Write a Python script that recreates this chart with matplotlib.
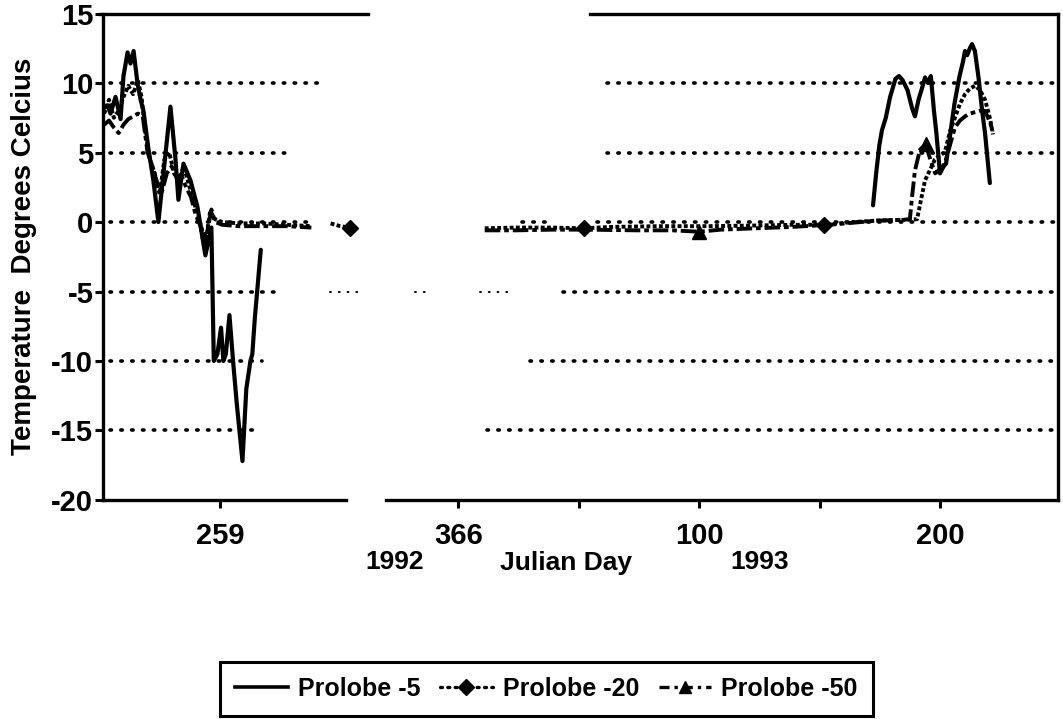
import numpy as np
import matplotlib
matplotlib.use("Agg")
import matplotlib.pyplot as plt
from matplotlib.lines import Line2D

plt.rcParams['font.family'] = ['Liberation Sans Narrow', 'Liberation Sans', 'DejaVu Sans']
plt.rcParams['font.weight'] = 'bold'

nan = np.nan

# ---------------- data (continuous day number: 1992 day N -> N, 1993 day N -> 366 + N)
P5_DAY = [219, 220.4, 221.6, 223.7, 225.8, 227, 228.7, 229.9, 231.2, 232.8, 234.1, 235.3,
          237.4, 239.4, 241.5, 243.6, 246.5, 248.6, 249.8, 251.9, 254.8, 257.7, 261, 263.5,
          264.5, 266, 267.5, 268.5, 269.5, 271, 272.5, 274, 276.4, 278, 279.7, 280.5, 281.5, 284,
          285,
          538.2, 539.5, 540.8, 541.9, 543.5, 545.3, 547.5, 549.0, 550.5, 552.5, 554.4, 555.6,
          557.1, 558.5, 559.8, 561, 562.2, 563.5, 564.5, 566, 567.5, 568.5, 570, 572, 574,
          575.5, 576.4, 577.3, 578.4, 579.3, 580.5, 582, 583.5, 584.7, 586.7]
P5_TEMP = [8.2, 8.4, 7.8, 9.0, 7.4, 10.5, 12.2, 11.4, 12.3, 10.0, 8.8, 8.0,
           5.2, 3.0, 0.0, 3.5, 8.3, 4.5, 1.6, 4.2, 3.0, 1.1, -2.4, -0.4,
           -10.0, -9.5, -7.6, -10.0, -9.5, -6.7, -10.0, -13.0, -17.2, -12.0, -10.0, -9.5, -7.0, -2.0,
           nan,
           1.2, 3.5, 5.5, 6.6, 7.5, 9.0, 10.3, 10.5, 10.2, 9.5, 8.2, 7.6,
           8.8, 9.6, 10.4, 10.0, 10.5, 8.0, 6.4, 3.5, 4.0, 4.2, 6.0, 8.5, 10.4,
           11.5, 12.3, 12.0, 12.5, 12.8, 12.3, 10.4, 8.0, 6.4, 2.8]

P20_DAY = [219, 221, 223, 225, 227, 229, 231, 233, 234.5, 236, 238, 240, 242, 244, 246, 248,
           250, 252, 254, 256, 258, 260, 261.5, 263, 265, 268, 275, 285, 295, 305,
           309,
           313, 317, 321, 323,
           350,
           377, 390, 405, 418, 430, 450, 470, 490, 505, 518, 530, 540, 550, 556.5, 558, 559.8,
           562, 563.9, 566, 568, 570.1, 572.2, 574.3, 576.4, 578.4, 580.5, 582.6, 584.7, 586.7, 588]
P20_TEMP = [7.8, 8.8, 7.5, 8.0, 9.0, 9.8, 9.2, 10.2, 9.0, 6.5, 4.5, 3.5, 2.0, 4.5, 5.0, 3.5,
            3.0, 4.0, 2.8, 1.5, 0.5, -0.8, -1.0, 0.8, 0.2, 0.0, -0.1, -0.1, -0.2, -0.3,
            nan,
            -0.1, -0.3, -0.4, -0.5,
            nan,
            -0.45, -0.4, -0.4, -0.45, -0.35, -0.3, -0.3, -0.25, -0.2, -0.2, 0.0, 0.1, 0.15, 0.2, 1.5, 3.0,
            3.8, 4.5, 4.8, 5.0, 6.5, 7.5, 8.5, 9.2, 9.6, 9.8, 9.5, 8.8, 7.5, 6.3]

P50_DAY = [219, 221, 223, 225, 227, 229, 231, 233, 235, 237, 239, 241, 243, 245, 247, 249,
           251, 253, 255, 257, 259, 260.5, 262, 263.5, 265, 268, 275, 285, 295, 305,
           340,
           377, 390, 405, 420, 440, 455, 466, 475, 490, 505, 520, 530, 540, 550, 553.5, 554.4,
           555.6, 557.7, 560, 562, 564, 566, 568, 570.1, 572.2, 574.3, 576.4, 578.4, 580.5,
           582.6, 584.7, 586.7, 588]
P50_TEMP = [7.0, 7.3, 6.8, 6.4, 7.0, 7.4, 7.6, 7.8, 7.6, 5.0, 4.0, 2.8, 2.2, 3.5, 4.0, 3.2,
            3.4, 2.5, 1.8, 0.5, -0.3, -1.8, -0.5, 0.9, 0.0, -0.2, -0.3, -0.3, -0.3, -0.4,
            nan,
            -0.6, -0.6, -0.55, -0.55, -0.6, -0.6, -0.7, -0.55, -0.45, -0.35, -0.2, -0.05, 0.1, 0.15, 0.2, 1.8,
            3.7, 5.2, 5.6, 4.5, 3.5, 3.8, 4.2, 5.5, 6.8, 7.3, 7.6, 7.8, 7.9,
            8.0, 8.0, 7.2, 6.5]

P20_MARK_DAYS = [321, 418, 518]
P50_MARK_DAYS = [466, 560]

SERIES_NAMES = ['Prolobe -5', 'Prolobe -20', 'Prolobe -50']
X_TICKS = [267, 366, 466, 566]
X_TICK_LABELS = ['259', '366', '100', '200']
X_MINOR_TICKS = [416, 516]
Y_TICKS = [-20, -15, -10, -5, 0, 5, 10, 15]

# gridline segments as drawn in the (scanned) original: (y, x_start, x_end)
GRID_SEGMENTS = [(10, 221.6, 307.9), (10, 427.8, 615),
                 (5, 221.6, 297.1), (5, 427.8, 615),
                 (0, 221.6, 304.6), (0, 392.6, 404.2), (0, 423.7, 615),
                 (-5, 221.6, 293.0), (-5, 409.6, 615),
                 (-10, 221.6, 284.7), (-10, 395.9, 615),
                 (-15, 221.6, 281.8), (-15, 378.0, 615)]
FAINT_GRID = [(-5, 312.9, 327.4), (-5, 348.2, 355.2), (-5, 375.1, 387.6)]

# ---------------- figure
fig = plt.figure(figsize=(10.63, 7.19), dpi=100)
ax = fig.add_axes([0.0969, 0.3046, 0.8984, 0.6766])
ax.set_xlim(218.5, 615)
ax.set_ylim(-20, 15)

dot_style = (0, (0.4, 2.6))
for y, x0, x1 in GRID_SEGMENTS:
    ax.plot([x0, x1], [y, y], color='black', lw=2.6, linestyle=dot_style,
            dash_capstyle='round', zorder=1)
for y, x0, x1 in FAINT_GRID:
    ax.plot([x0, x1], [y, y], color='black', lw=1.4, linestyle=(0, (0.5, 4)),
            dash_capstyle='round', zorder=1)


def mark_idx(days, marks):
    d = np.asarray(days, dtype=float)
    return [int(np.argmin(np.abs(d - m))) for m in marks]


ax.plot(P5_DAY, P5_TEMP, color='black', lw=3.0, solid_capstyle='round',
        solid_joinstyle='round', zorder=3)
ax.plot(P20_DAY, P20_TEMP, color='black', lw=2.8, linestyle=(0, (1.0, 0.6)),
        marker='D', markersize=8, markevery=mark_idx(P20_DAY, P20_MARK_DAYS), zorder=3)
ax.plot(P50_DAY, P50_TEMP, color='black', lw=2.8, linestyle=(0, (4, 1.0, 1.2, 1.0)),
        marker='^', markersize=10, markevery=mark_idx(P50_DAY, P50_MARK_DAYS), zorder=3)

# spines (scan shows breaks in top and bottom frame lines)
for s in ['top', 'bottom']:
    ax.spines[s].set_visible(False)
for s in ['left', 'right']:
    ax.spines[s].set_linewidth(2.4)
for x0, x1 in [(217.4, 328.7), (420.8, 615)]:
    ax.plot([x0, x1], [15, 15], color='black', lw=2.4, clip_on=False, zorder=4)
for x0, x1 in [(218.5, 319.5), (336, 615)]:
    ax.plot([x0, x1], [-20, -20], color='black', lw=2.4, clip_on=False, zorder=4)

ax.set_xticks(X_TICKS)
ax.set_xticklabels(X_TICK_LABELS, fontsize=21, fontweight='bold',
                   family=['Liberation Sans', 'DejaVu Sans'])
ax.set_xticks(X_MINOR_TICKS, minor=True)
ax.tick_params(axis='x', which='both', direction='out', length=6, width=2.2, pad=10)
ax.set_yticks(Y_TICKS)
ax.set_yticklabels([str(v) for v in Y_TICKS], fontsize=21, fontweight='bold')
ax.tick_params(axis='y', direction='out', length=6, width=2.2, pad=1)

ax.set_ylabel('Temperature  Degrees Celcius', fontsize=20, fontweight='bold')
ax.yaxis.set_label_coords(-0.069, 0.5)

fig.text(395 / 1063, 1 - 562 / 719, '1992', fontsize=19, fontweight='bold', ha='center', va='center')
fig.text(566 / 1063, 1 - 563 / 719, 'Julian Day', fontsize=19, fontweight='bold', ha='center', va='center')
fig.text(760 / 1063, 1 - 562 / 719, '1993', fontsize=19, fontweight='bold', ha='center', va='center')

handles = [
    Line2D([], [], color='black', lw=2.6),
    Line2D([], [], color='black', lw=2.4, linestyle=(0, (0.6, 1.6)), dash_capstyle='round',
           marker='D', markersize=8),
    Line2D([], [], color='black', lw=2.4, linestyle=(0, (3, 1.5, 1, 1.5)), marker='^', markersize=9),
]
leg = fig.legend(handles, SERIES_NAMES, loc='center', bbox_to_anchor=(0.514, 0.042), ncol=3,
                 frameon=True, fancybox=False, edgecolor='black', framealpha=1,
                 prop={'size': 18, 'weight': 'bold'}, handlelength=2.1, handletextpad=0.4,
                 columnspacing=0.8, borderpad=0.6)
leg.get_frame().set_linewidth(2.2)

fig.savefig('out.png', dpi=100)
